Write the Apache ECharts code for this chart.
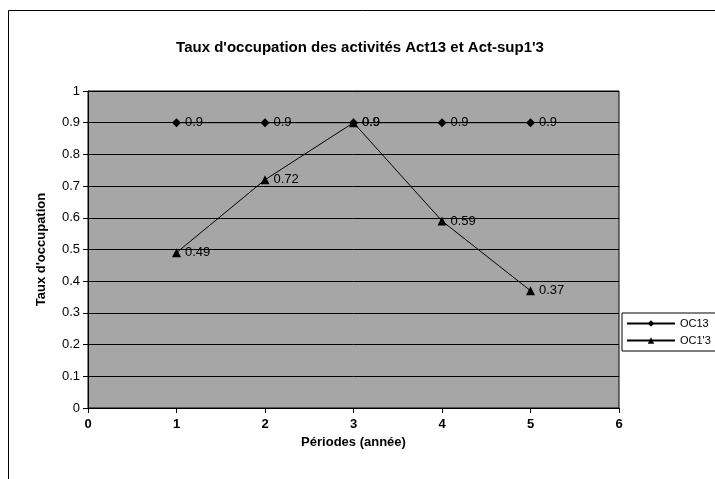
<!DOCTYPE html>
<html>
<head>
<meta charset="utf-8">
<script src="https://cdn.jsdelivr.net/npm/echarts@6/dist/echarts.min.js"></script>
<style>
  html, body { margin: 0; padding: 0; background: #fff; }
  #chart { width: 715px; height: 479px; }
</style>
</head>
<body>
<div id="chart"></div>
<script>
// données
var periodes = [1, 2, 3, 4, 5];
var oc13 = [0.9, 0.9, 0.9, 0.9, 0.9];
var oc1p3 = [0.49, 0.72, 0.9, 0.59, 0.37];
var nomsSeries = ["OC13", "OC1'3"];

function paires(xs, ys) {
    return xs.map(function(x, i) { return [x, ys[i]]; });
}

var police = "Liberation Sans, Arial, sans-serif";
var myChart = echarts.init(document.getElementById("chart"));

myChart.setOption({
    animation: false,
    backgroundColor: "#fff",
    title: {
        text: "Taux d'occupation des activités Act13 et Act-sup1'3",
        left: 355,
        textAlign: "center",
        top: 35,
        textStyle: { fontFamily: police, fontSize: 15, fontWeight: "bold", color: "#000" }
    },
    graphic: [{
        type: "rect",
        shape: { x: 8.5, y: 10.5, width: 720, height: 480 },
        style: { fill: "none", stroke: "#000", lineWidth: 1 },
        z: -1
    }],
    legend: {
        orient: "vertical",
        left: 622,
        top: 313,
        itemWidth: 48,
        itemHeight: 8,
        itemGap: 6,
        padding: [5, 20, 5, 4],
        borderColor: "#000",
        borderWidth: 1,
        backgroundColor: "#fff",
        textStyle: { fontFamily: police, fontSize: 11, color: "#000" },
        data: nomsSeries
    },
    grid: {
        left: 88,
        right: 96,
        top: 91,
        bottom: 71,
        show: true,
        backgroundColor: "#a6a6a6",
        borderColor: "#000",
        borderWidth: 1
    },
    xAxis: {
        type: "value",
        min: 0,
        max: 6,
        interval: 1,
        name: "Périodes (année)",
        nameLocation: "middle",
        nameGap: 28,
        nameTextStyle: { fontFamily: police, fontSize: 13, fontWeight: "bold", color: "#000" },
        axisLine: { lineStyle: { color: "#000", width: 1 } },
        axisTick: { show: true, length: 5, lineStyle: { color: "#000" } },
        axisLabel: { fontFamily: police, fontSize: 13, fontWeight: "bold", color: "#000", margin: 10 },
        splitLine: { show: false }
    },
    yAxis: {
        type: "value",
        min: 0,
        max: 1,
        interval: 0.1,
        name: "Taux d'occupation",
        nameLocation: "middle",
        nameGap: 40,
        nameTextStyle: { fontFamily: police, fontSize: 13, fontWeight: "bold", color: "#000" },
        axisLine: { show: true, lineStyle: { color: "#000", width: 1 } },
        axisTick: { show: true, length: 5, lineStyle: { color: "#000" } },
        axisLabel: { fontFamily: police, fontSize: 13, color: "#000", margin: 8 },
        splitLine: { show: true, lineStyle: { color: "#000", width: 1 } }
    },
    series: [{
        name: nomsSeries[0],
        type: "line",
        data: paires(periodes, oc13),
        symbol: "diamond",
        symbolSize: 9,
        itemStyle: { color: "#000" },
        lineStyle: { color: "#000", width: 1 },
        label: {
            show: true,
            position: "right",
            distance: 4,
            fontFamily: police,
            fontSize: 13,
            color: "#000"
        }
    }, {
        name: nomsSeries[1],
        type: "line",
        data: paires(periodes, oc1p3),
        symbol: "triangle",
        symbolSize: 9,
        itemStyle: { color: "#000" },
        lineStyle: { color: "#000", width: 1 },
        label: {
            show: true,
            position: "right",
            distance: 4,
            fontFamily: police,
            fontSize: 13,
            color: "#000"
        }
    }]
});

window.addEventListener("resize", function() {
    myChart.resize();
});
</script>
</body>
</html>
